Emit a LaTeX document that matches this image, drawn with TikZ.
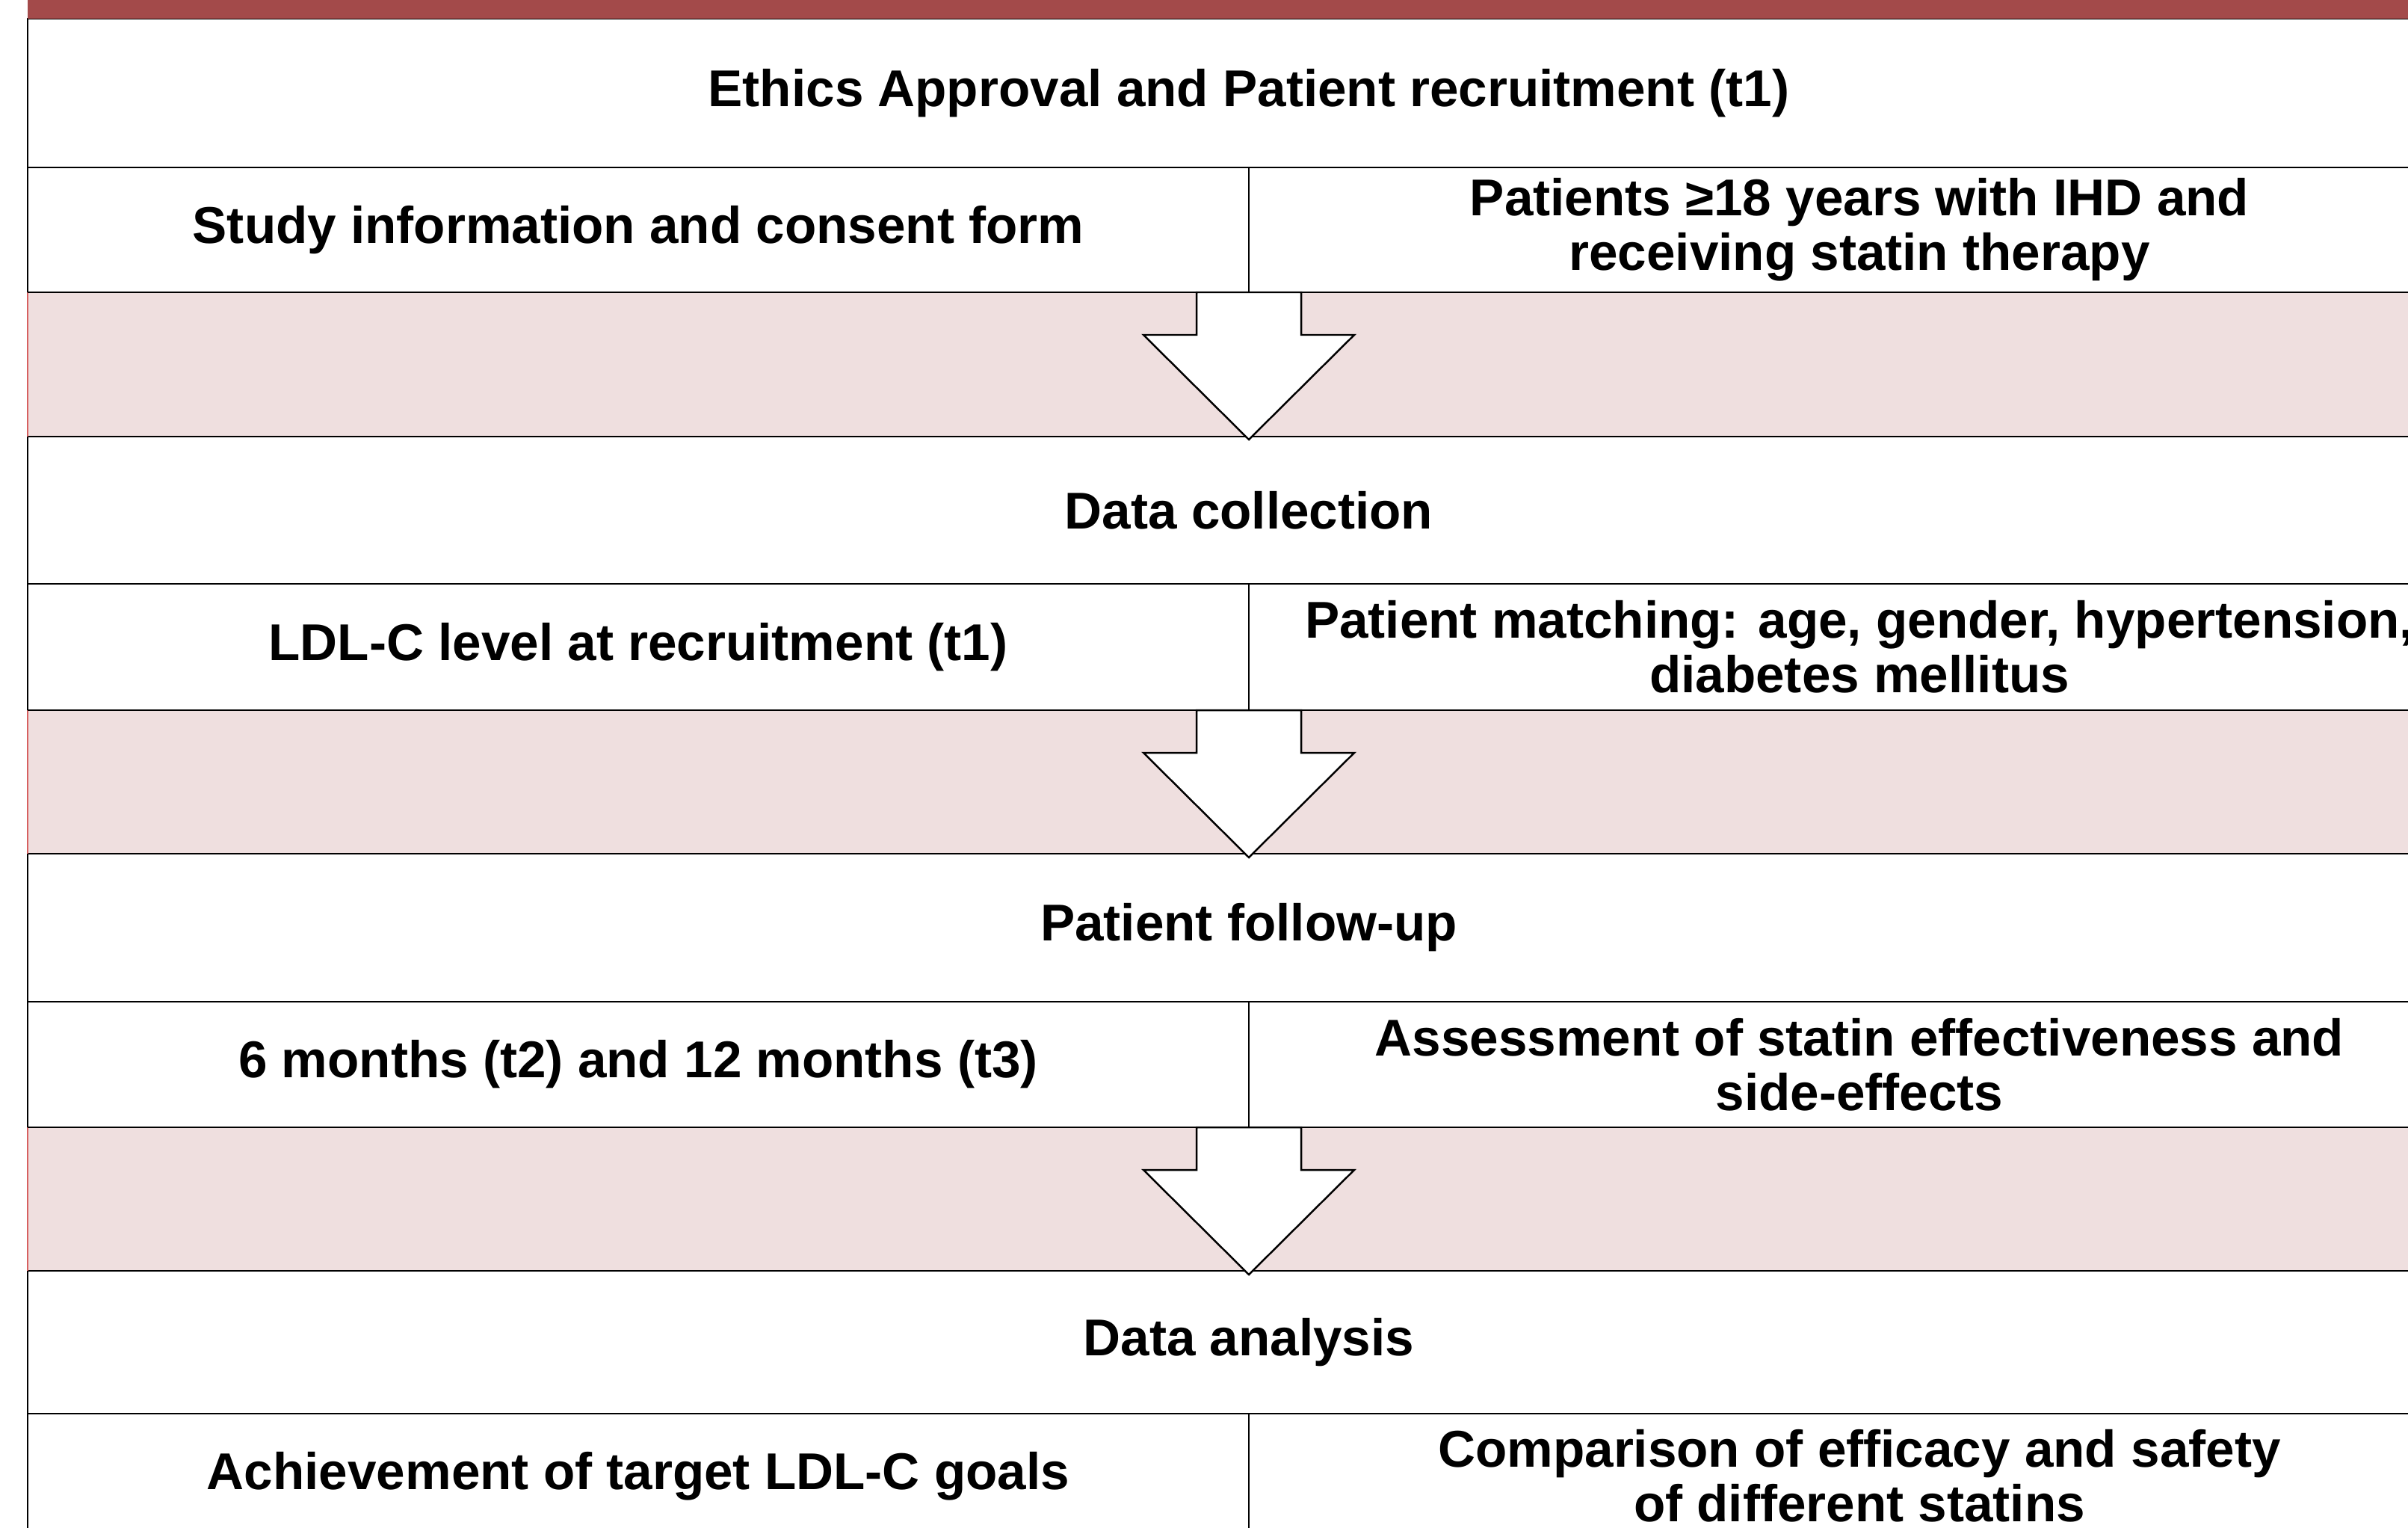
\documentclass[tikz,border=0pt]{standalone}
\usepackage{fontspec}
\setmainfont{Liberation Sans}
\usetikzlibrary{positioning}

\definecolor{barred}{RGB}{163,74,74}
\definecolor{gappink}{RGB}{239,223,223}
\definecolor{gapedge}{RGB}{214,96,96}

\tikzset{
    cell/.style={draw,line width=0.7pt,fill=white,inner sep=0pt,outer sep=0pt,anchor=north west,
        align=center,font=\fontsize{19.7}{20.8}\selectfont\bfseries},
    wide/.style={cell,minimum width=32.68cm},
    half/.style={cell,minimum width=16.34cm,minimum height=1.67cm},
    gap/.style={fill=gappink,inner sep=0pt,outer sep=0pt,
        anchor=north west,minimum width=32.68cm,minimum height=#1},
    blockarrow/.style={draw,line width=0.7pt,fill=white,line join=miter}
}

\begin{document}
\begin{tikzpicture}
    \useasboundingbox (0,0) rectangle (32.22,-20.43);
    \clip (0,0) rectangle (32.22,-20.43);

    %% stage 1
    \node[wide,minimum height=1.99cm] (ethics) at (0.37,-0.25) {Ethics Approval and Patient recruitment (t1)};
    \node[fill=barred,inner sep=0pt,outer sep=0pt,minimum width=32.68cm,minimum height=0.25cm,anchor=south west] (topbar) at (ethics.north west) {};
    \node[half] (info) at (ethics.south west) {Study information and consent form};
    \node[half] (patients) at (info.north east) {Patients ≥18 years with IHD and\\receiving statin therapy};
    \node[gap=1.93cm] (gap1) at (info.south west) {};

    %% stage 2
    \node[wide,minimum height=1.97cm] (collection) at (gap1.south west) {Data collection};
    \node[half,minimum height=1.69cm] (ldl) at (collection.south west) {LDL-C level at recruitment (t1)};
    \node[half,minimum height=1.69cm] (matching) at (ldl.north east) {Patient matching: age, gender, hypertension,\\diabetes mellitus};
    \node[gap=1.92cm] (gap2) at (ldl.south west) {};

    %% stage 3
    \node[wide,minimum height=1.98cm] (followup) at (gap2.south west) {Patient follow-up};
    \node[half,minimum height=1.68cm] (months) at (followup.south west) {6 months (t2) and 12 months (t3)};
    \node[half,minimum height=1.68cm] (assess) at (months.north east) {Assessment of statin effectiveness and\\side-effects};
    \node[gap=1.92cm] (gap3) at (months.south west) {};

    %% stage 4
    \node[wide,minimum height=1.91cm] (analysis) at (gap3.south west) {Data analysis};
    \node[half] (goals) at (analysis.south west) {Achievement of target LDL-C goals};
    \node[half] (compare) at (goals.north east) {Comparison of efficacy and safety\\of different statins};

    %% edges of the pink gaps
    \foreach \g in {gap1,gap2,gap3} {
        \draw[gapedge,line width=0.4pt] (\g.north west) -- (\g.south west);
        \draw[line width=0.7pt] (\g.north west) -- (\g.north east);
    }

    %% block arrows between the stages
    \foreach \s in {info,ldl,months}
        \draw[blockarrow] (\s.south east) ++(-0.70,0) -- ++(0,-0.57) -- ++(-0.71,0)
            -- ++(1.41,-1.40) -- ++(1.41,1.40) -- ++(-0.71,0) -- ++(0,0.57) -- cycle;
\end{tikzpicture}
\end{document}
